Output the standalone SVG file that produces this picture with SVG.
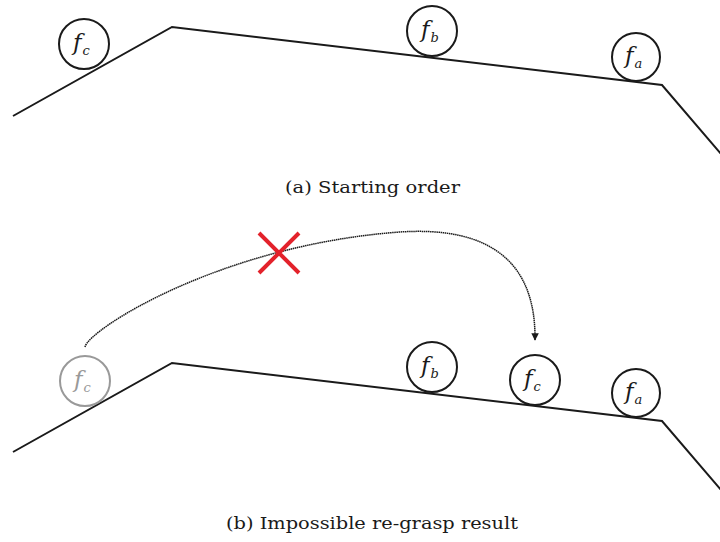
<svg xmlns="http://www.w3.org/2000/svg" width="720" height="542" viewBox="0 0 720 542">
<style>
.surf{fill:none;stroke:#1a1a1a;stroke-width:2}
.node{fill:#fff;stroke:#1a1a1a;stroke-width:2}
.ghost{fill:#fff;stroke:#999;stroke-width:2}
.lbl{font-family:"DejaVu Serif","Liberation Serif",serif;font-style:italic;font-size:23px;fill:#1a1a1a}
.sub{font-size:13px}
.glbl{fill:#999}
.cap{font-family:"DejaVu Serif","Liberation Serif",serif;font-size:17px;fill:#1a1a1a}
.cross{stroke:#e3222b;stroke-width:4;fill:none}
</style>
<defs>
<marker id="ah" viewBox="0 0 10 10" refX="9" refY="5" markerWidth="5" markerHeight="5" orient="auto"><path d="M0,0 L10,5 L0,10 z" fill="#1a1a1a"/></marker>
</defs>
<g id="surface-a"><polyline class="surf" points="13,116 172,27 662,85 722,155"/></g>
<g id="node-a-fc"><circle class="node" cx="84" cy="44" r="25"/><text class="lbl" x="73" y="50">f<tspan class="sub" dx="1" dy="5">c</tspan></text></g>
<g id="node-a-fb"><circle class="node" cx="432" cy="31" r="25"/><text class="lbl" x="421" y="37">f<tspan class="sub" dx="1" dy="5">b</tspan></text></g>
<g id="node-a-fa"><circle class="node" cx="636" cy="57" r="24"/><text class="lbl" x="625" y="63">f<tspan class="sub" dx="1" dy="5">a</tspan></text></g>
<text class="cap" x="285" y="193" textLength="175" lengthAdjust="spacingAndGlyphs">(a)  Starting order</text>
<g id="surface-b"><polyline class="surf" points="13,452 172,363 662,421 722,491"/></g>
<g id="node-b-fc-ghost"><circle class="ghost" cx="85" cy="381" r="25"/><text class="lbl glbl" x="74" y="387">f<tspan class="sub" dx="1" dy="5">c</tspan></text></g>
<g id="node-b-fb"><circle class="node" cx="432" cy="367" r="25"/><text class="lbl" x="421" y="373">f<tspan class="sub" dx="1" dy="5">b</tspan></text></g>
<g id="node-b-fc"><circle class="node" cx="535" cy="380" r="25"/><text class="lbl" x="524" y="386">f<tspan class="sub" dx="1" dy="5">c</tspan></text></g>
<g id="node-b-fa"><circle class="node" cx="636" cy="393" r="24"/><text class="lbl" x="625" y="399">f<tspan class="sub" dx="1" dy="5">a</tspan></text></g>
<g id="connectors">
<path d="M85,347 C88,330 220,245 400,232 C490,226 536,262 535,340" fill="none" stroke="#1a1a1a" stroke-width="1.5" stroke-dasharray="1.5,0.6" marker-end="url(#ah)"/>
<path class="cross" d="M259,233 L299,273 M299,233 L259,273"/>
</g>
<text class="cap" x="226" y="529" textLength="292" lengthAdjust="spacingAndGlyphs">(b)  Impossible re-grasp result</text>
</svg>
